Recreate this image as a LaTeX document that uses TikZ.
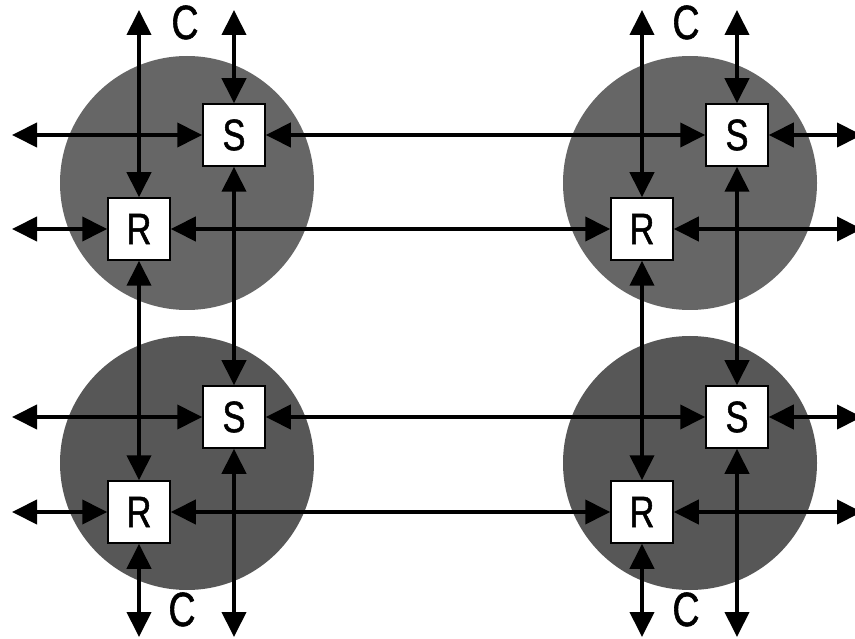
\documentclass[tikz,border=0pt]{standalone}
\usepackage{fontspec}
\setmainfont{Liberation Sans}
\newfontfamily\narrowbold[FakeStretch=0.78,FakeBold=1.2]{Liberation Sans}
\usetikzlibrary{arrows.meta, positioning}

\begin{document}
\begin{tikzpicture}[
    x=1pt, y=-1pt,
    cell/.style={circle, fill=#1, minimum size=254pt, inner sep=0pt},
    unit/.style={rectangle, draw=black, line width=1.5pt, fill=white,
                 minimum size=62pt, inner sep=0pt, font=\narrowbold\fontsize{44}{44}\selectfont},
    clabel/.style={anchor=base, inner sep=0pt, text depth=0pt, font=\narrowbold\fontsize{48}{48}\selectfont},
    link/.style={{Triangle[length=25pt,width=24pt]}-{Triangle[length=25pt,width=24pt]}, line width=4pt}
]
    \useasboundingbox (0,0) rectangle (855,639);
    \clip (0,0) rectangle (855,639);

    % Shaded cells
    \node[cell=black!60] (cell1) at (187,183) {};
    \node[cell=black!60] (cell2) at (690,183) {};
    \node[cell=black!66] (cell3) at (187,463) {};
    \node[cell=black!66] (cell4) at (690,463) {};

    % S and R units
    \node[unit] (s1) at (234,135) {S};
    \node[unit] (r1) at (139,229) {R};
    \node[unit] (s2) at (737,135) {S};
    \node[unit] (r2) at (642,229) {R};
    \node[unit] (s3) at (234,417) {S};
    \node[unit] (r3) at (139,512) {R};
    \node[unit] (s4) at (737,417) {S};
    \node[unit] (r4) at (642,512) {R};

    % C labels
    \node[clabel] (c1) at (185,39) {C};
    \node[clabel] (c2) at (686,39) {C};
    \node[clabel] (c3) at (182,626) {C};
    \node[clabel] (c4) at (686,626) {C};

    % Open ends
    \coordinate (r1top) at (139,10);
    \coordinate (s1top) at (234,10);
    \coordinate (r2top) at (642,10);
    \coordinate (s2top) at (737,10);
    \coordinate (r3bot) at (139,637);
    \coordinate (s3bot) at (234,637);
    \coordinate (r4bot) at (642,637);
    \coordinate (s4bot) at (737,637);
    \coordinate (s1left) at (12,135);
    \coordinate (r1left) at (12,229);
    \coordinate (s3left) at (12,417);
    \coordinate (r3left) at (12,512);
    \coordinate (s2right) at (862,135);
    \coordinate (r2right) at (862,229);
    \coordinate (s4right) at (862,417);
    \coordinate (r4right) at (862,512);

    % Vertical links
    \draw[link] (r1top) -- (r1);
    \draw[link] (s1top) -- (s1);
    \draw[link] (r2top) -- (r2);
    \draw[link] (s2top) -- (s2);
    \draw[link] (r1) -- (r3);
    \draw[link] (s1) -- (s3);
    \draw[link] (r2) -- (r4);
    \draw[link] (s2) -- (s4);
    \draw[link] (r3) -- (r3bot);
    \draw[link] (s3) -- (s3bot);
    \draw[link] (r4) -- (r4bot);
    \draw[link] (s4) -- (s4bot);

    % Horizontal links
    \draw[link] (s1left) -- (s1);
    \draw[link] (s1) -- (s2);
    \draw[link] (s2) -- (s2right);
    \draw[link] (r1left) -- (r1);
    \draw[link] (r1) -- (r2);
    \draw[link] (r2) -- (r2right);
    \draw[link] (s3left) -- (s3);
    \draw[link] (s3) -- (s4);
    \draw[link] (s4) -- (s4right);
    \draw[link] (r3left) -- (r3);
    \draw[link] (r3) -- (r4);
    \draw[link] (r4) -- (r4right);
\end{tikzpicture}
\end{document}
